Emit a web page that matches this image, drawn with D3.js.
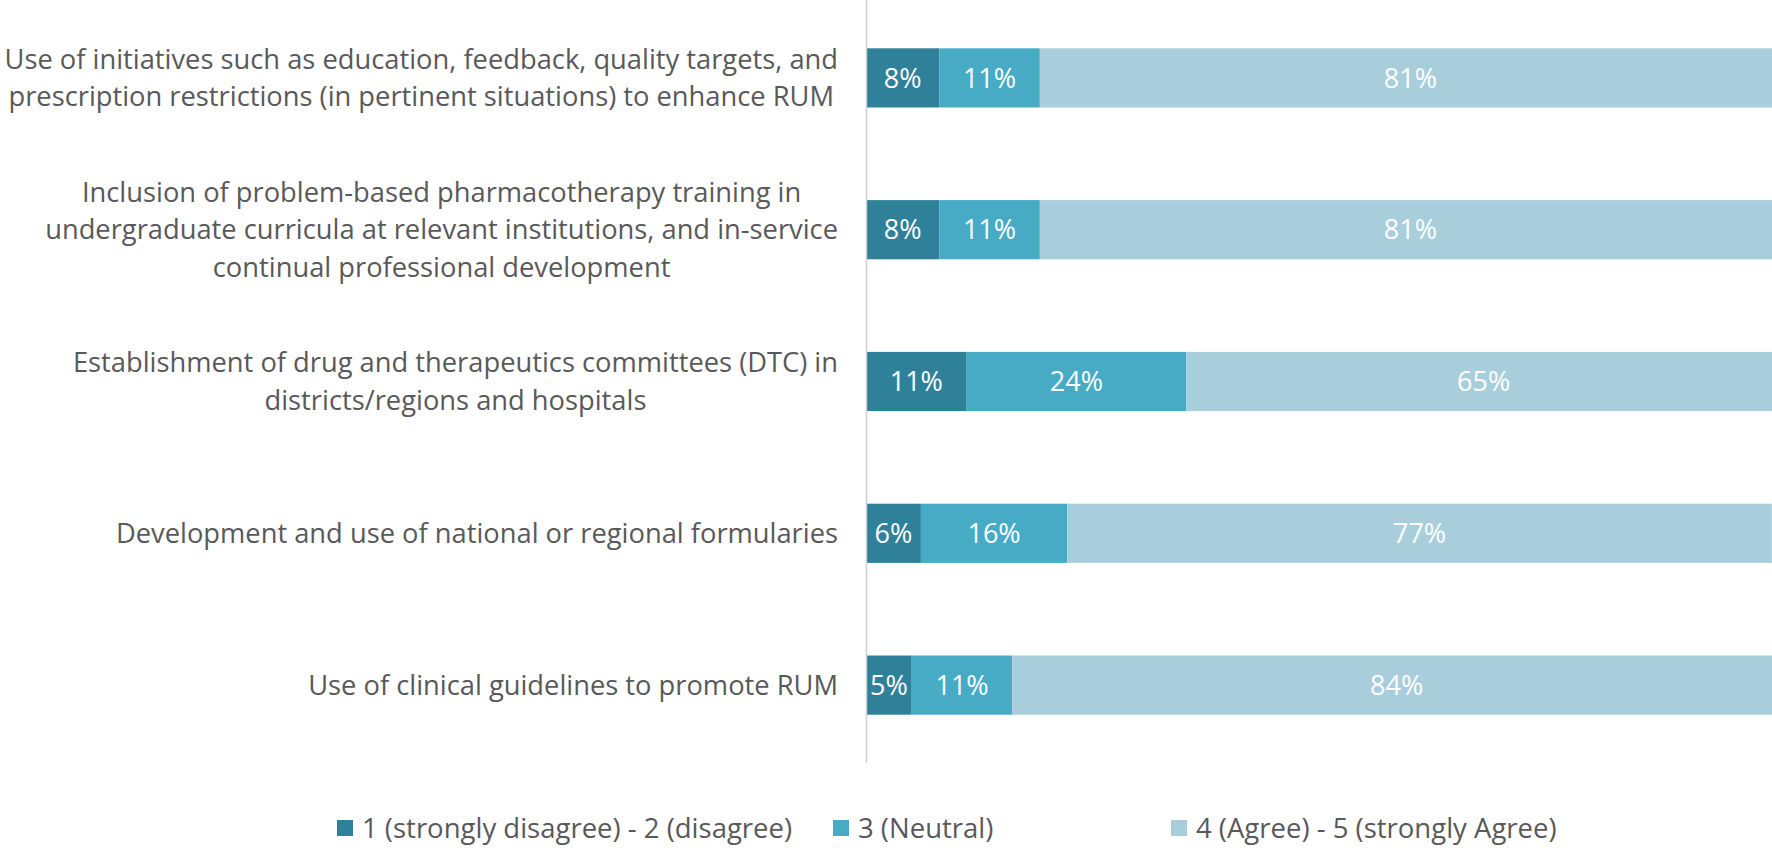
<!DOCTYPE html>
<html>
  <head>
    <meta charset="utf-8">
    <title>RUM strategies stacked bar</title>
    <style>
      html, body { margin: 0; padding: 0; background: #fff; overflow: hidden; }
      svg { display: block; }
    </style>
  </head>
  <body>
    <script src="https://cdn.jsdelivr.net/npm/d3@7"></script>
    <script type="text/javascript">
      // category labels, already wrapped as in the source chart
      var categories = [
        ["Use of initiatives such as education, feedback, quality targets, and",
         "prescription restrictions (in pertinent situations) to enhance RUM"],
        ["Inclusion of problem-based pharmacotherapy training in",
         "undergraduate curricula at relevant institutions, and in-service",
         "continual professional development"],
        ["Establishment of drug and therapeutics committees (DTC) in",
         "districts/regions and hospitals"],
        ["Development and use of national or regional formularies"],
        ["Use of clinical guidelines to promote RUM"]
      ];
      var disagree = [8, 8, 11, 6, 5];
      var neutral  = [11, 11, 24, 16, 11];
      var agree    = [81, 81, 65, 77, 84];
      var seriesNames = ["1 (strongly disagree) - 2 (disagree)", "3 (Neutral)", "4 (Agree) - 5 (strongly Agree)"];
      var colors = ["#2f8199", "#47abc6", "#a9cedb"];

      var width = 1772;
      var height = 857;
      var axisX = 866;
      var font = "'Open Sans', 'Noto Sans', sans-serif";
      var textColor = "#595959";

      var svg = d3.select("body")
                  .append("svg")
                  .attr("width", width)
                  .attr("height", height);

      // 100% sits just past the right edge of the picture
      var x = d3.scaleLinear()
                .domain([0, 100])
                .range([axisX, 1781]);

      var y = d3.scaleBand()
                .domain(d3.range(categories.length))
                .range([2, 761])
                .paddingInner(0.61)
                .paddingOuter(0.305);

      var rows = categories.map(function(c, i) {
        return { i: i, values: [disagree[i], neutral[i], agree[i]] };
      });

      var stack = d3.stack().keys([0, 1, 2]).value(function(d, k) { return d.values[k]; });
      var layers = stack(rows);

      var g = svg.append("g");
      layers.forEach(function(layer, k) {
        g.selectAll(".s" + k)
          .data(layer)
          .enter().append("rect")
          .attr("x", function(d) { return x(d[0]); })
          .attr("y", function(d) { return y(d.data.i); })
          .attr("width", function(d) { return x(d[1]) - x(d[0]); })
          .attr("height", y.bandwidth())
          .attr("fill", colors[k]);

        g.selectAll(".t" + k)
          .data(layer)
          .enter().append("text")
          .attr("x", function(d) { return (x(d[0]) + x(d[1])) / 2; })
          .attr("y", function(d) { return y(d.data.i) + y.bandwidth() / 2; })
          .attr("dy", "0.36em")
          .attr("text-anchor", "middle")
          .attr("font-family", font)
          .attr("font-size", "27px")
          .attr("fill", "#fff")
          .text(function(d) { return d.data.values[k] + "%"; });
      });

      // vertical category axis line
      svg.append("line")
         .attr("x1", axisX + 0.5).attr("x2", axisX + 0.5)
         .attr("y1", 0).attr("y2", 763)
         .attr("stroke", "#d0d0d0")
         .attr("stroke-width", 1.5);

      // category labels: each block right aligned to the axis, lines centred in the block
      var lineH = 37.3;
      var labelRight = 838;
      categories.forEach(function(lines, i) {
        var cy = y(i) + y.bandwidth() / 2;
        var t = svg.append("text")
                   .attr("font-family", font)
                   .attr("font-size", "27.3px")
                   .attr("fill", textColor)
                   .attr("text-anchor", "middle");
        var spans = lines.map(function(s, j) {
          return t.append("tspan")
                  .attr("y", cy + (j - (lines.length - 1) / 2) * lineH)
                  .attr("dy", "0.35em")
                  .text(s);
        });
        var maxW = d3.max(spans, function(s) { return s.node().getComputedTextLength(); });
        spans.forEach(function(s) { s.attr("x", labelRight - maxW / 2); });
      });

      // legend
      var legendX = [337, 833, 1171];
      var legendY = 828;
      seriesNames.forEach(function(name, k) {
        svg.append("rect")
           .attr("x", legendX[k]).attr("y", legendY - 8)
           .attr("width", 16).attr("height", 16)
           .attr("fill", colors[k]);
        svg.append("text")
           .attr("x", legendX[k] + 25).attr("y", legendY)
           .attr("dy", "0.35em")
           .attr("font-family", font)
           .attr("font-size", "27.5px")
           .attr("fill", textColor)
           .text(name);
      });
    </script>
  </body>
</html>
